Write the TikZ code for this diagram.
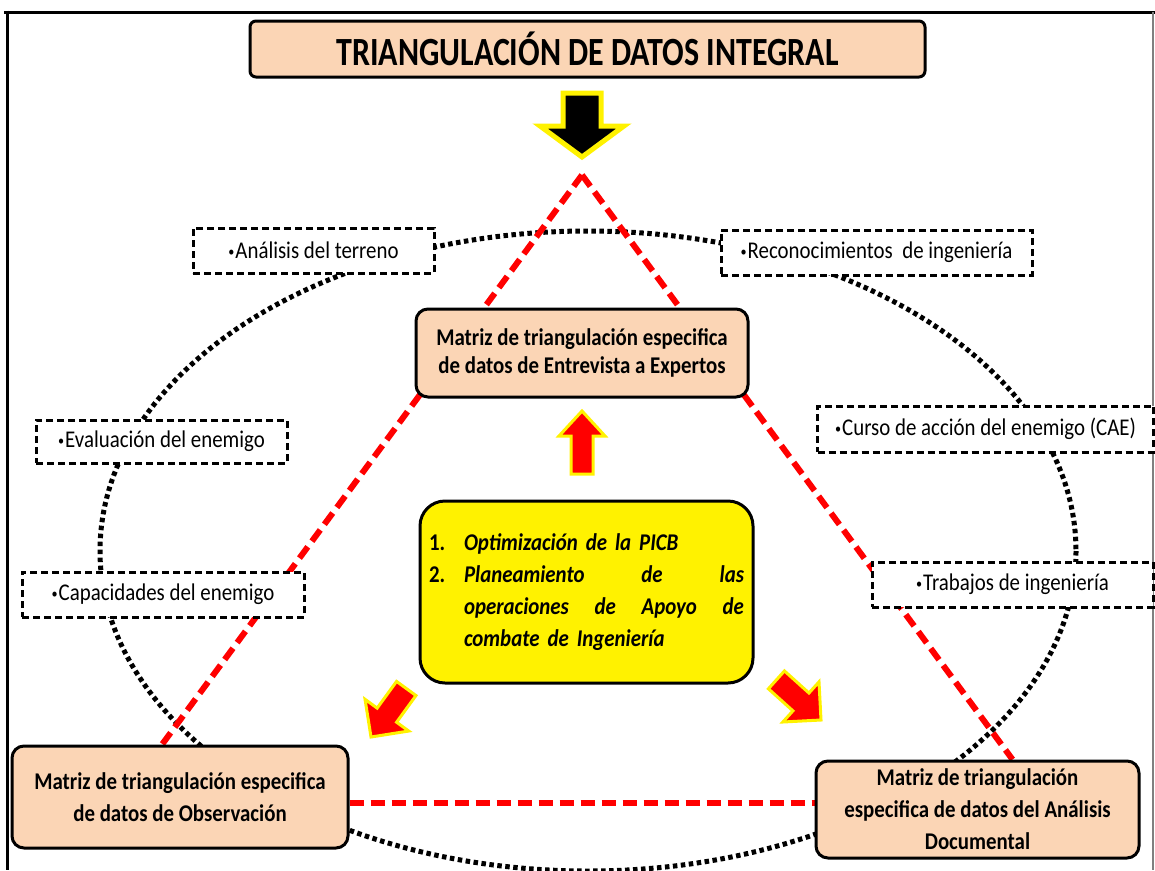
\documentclass[tikz,border=0pt]{standalone}
\usepackage{fontspec}
\setmainfont{Carlito}[FakeStretch=0.87]
\newfontfamily\titlefont{Carlito}[FakeStretch=0.80]
\usetikzlibrary{calc,backgrounds}
\definecolor{peach}{HTML}{FBD5B5}

\newcommand\blockarrow[8]{%
  \filldraw[fill=#7, draw=yellow, line width=#8, line join=miter, miter limit=10]
    ($#1+(#2+180:#3)+(#2+90:#6)$) -- ($#1+(#2+180:#4)+(#2+90:#6)$) --
    ($#1+(#2+180:#4)+(#2+90:#5)$) -- #1 -- ($#1+(#2+180:#4)+(#2-90:#5)$) --
    ($#1+(#2+180:#4)+(#2-90:#6)$) -- ($#1+(#2+180:#3)+(#2-90:#6)$) -- cycle;}
\newcommand\bul{\raisebox{2pt}{\fontsize{14}{14}\selectfont•}\hspace{1pt}}

\begin{document}
\begin{tikzpicture}[x=1pt,y=-1pt,
  peachbox/.style={draw=black, line width=3pt, fill=peach, rounded corners=12pt,
    inner sep=0pt, align=center, font=\fontsize{24}{32}\selectfont\bfseries},
  dashbox/.style={draw=black, fill=white, line width=3pt, dash pattern=on 7pt off 4pt,
    inner sep=0pt, font=\fontsize{24}{28}\selectfont},
  reddash/.style={draw=red, line width=6pt, dash pattern=on 14pt off 7pt},
  dotline/.style={draw=black, line width=5pt, dash pattern=on 4.5pt off 3.5pt},
]
\useasboundingbox (0,0) rectangle (1155,870);

% frame
\draw[line width=3pt] (4,12) -- (1155,12);
\draw[line width=3pt] (7,10.5) -- (7,870);
\draw[gray, line width=1.2pt] (1153,12) -- (1153,870);

% title
\node[draw=black, line width=3pt, fill=peach, rounded corners=6pt, minimum width=675pt,
  minimum height=56pt, inner sep=0pt] (title) at (587.5,49)
  {\titlefont\bfseries\fontsize{40}{40}\selectfont TRIANGULACIÓN DE DATOS INTEGRAL};

% main boxes
\node[peachbox, minimum width=332pt, minimum height=88pt, font=\fontsize{24}{28}\selectfont\bfseries]
  (entrevista) at (582,353) {Matriz de triangulación especifica\\de datos de Entrevista a Expertos};
\node[peachbox, minimum width=336pt, minimum height=102pt]
  (observacion) at (180,797) {Matriz de triangulación especifica\\de datos de Observación};
\node[peachbox, minimum width=323pt, minimum height=97pt]
  (documental) at (977.5,809.5) {Matriz de triangulación\\especifica de datos del Análisis\\Documental};

% central box
\node[draw=black, line width=3pt, fill=yellow, rounded corners=25pt, minimum width=333pt,
  minimum height=182pt, inner sep=0pt, text width=315pt, align=left,
  font=\fontsize{24}{32}\selectfont\bfseries\itshape] (central) at (586.5,592)
  {\makebox[35pt][l]{\upshape 1.}Optimización de la PICB\\
   \makebox[35pt][l]{\upshape 2.}\hbox to 280pt{Planeamiento\hfill de\hfill las}\\
   \hspace*{35pt}\hbox to 280pt{operaciones\hfill de\hfill Apoyo\hfill de}\\
   \hspace*{35pt}combate de Ingeniería};

% dashed boxes
\node[dashbox, minimum width=241pt, minimum height=45pt] (analisis) at (313.5,250.5) {\bul Análisis del terreno};
\node[dashbox, minimum width=311pt, minimum height=45pt] (reconoc) at (876.5,252.5) {\bul Reconocimientos\ \ de ingeniería};
\node[dashbox, minimum width=251pt, minimum height=43pt] (evaluacion) at (161.5,441.5) {\bul Evaluación del enemigo};
\node[dashbox, minimum width=282pt, minimum height=45pt] (capacidades) at (163,594.5) {\bul Capacidades del enemigo};
\node[dashbox, minimum width=336pt, minimum height=46pt] (curso) at (985.5,429) {\bul Curso de acción del enemigo (CAE)};
\node[dashbox, minimum width=281pt, minimum height=45pt] (trabajos) at (1012.5,584.5) {\bul Trabajos de ingeniería};

% background: ellipse and triangle
\begin{pgfonlayer}{background}
  \fill[white] (0,0) rectangle (1155,870);
  \coordinate (ctr) at (588,551);
  \draw[dotline] (ctr) ellipse [x radius=488, y radius=320];
  \coordinate (apex) at (582,175);
  \draw[reddash] (apex) -- ($(observacion.north)+(-18,0)$);
  \draw[reddash] (apex) -- ($(documental.north)+(35,0)$);
  \draw[reddash] ($(observacion.east)+(0,6)$) -- ($(documental.west)+(0,-6.5)$);
\end{pgfonlayer}

% block arrows
\blockarrow{(582,157)}{90}{64}{31}{42}{19}{black}{5pt}
\blockarrow{(582,411)}{270}{63}{25}{23}{11}{red}{3pt}
\blockarrow{(371,737)}{126}{60}{27}{27}{12}{red}{3pt}
\blockarrow{(821,720)}{42}{60}{27}{27}{12}{red}{3pt}
\end{tikzpicture}
\end{document}
